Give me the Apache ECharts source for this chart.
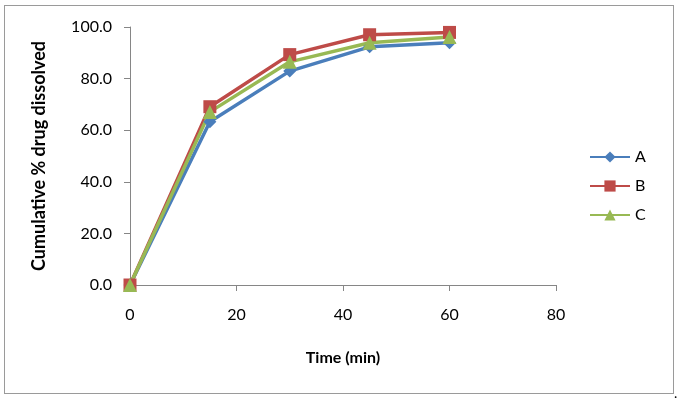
<!doctype html>
<html>
<head>
<meta charset="utf-8">
<script src="https://cdn.jsdelivr.net/npm/echarts@6/dist/echarts.min.js"></script>
<style>
    body { margin:0; background:#fff; }
    #frame { position:absolute; left:4px; top:5px; width:668px; height:387px; border:1px solid #9a9a9a; }
    #main { position:absolute; left:0; top:0; width:678px; height:402px; }
    #dot { position:absolute; left:674px; top:384px; font:14px Lato, sans-serif; }
</style>
</head>
<body>
<div id="frame"></div>
<div id="main"></div>
<div id="dot">.</div>
<script>
var times = [0, 15, 30, 45, 60];
var seriesA = [0, 63.3, 82.9, 92.3, 93.9];
var seriesB = [0, 69.1, 89.3, 97.0, 97.9];
var seriesC = [0, 67.1, 86.5, 93.9, 96.1];
var names = ['A', 'B', 'C'];
var colors = ['#4a7ebb', '#be4b48', '#98b954'];
var symbols = ['diamond', 'rect', 'triangle'];
var sizes = [13, 13, 14];

function pairs(vals) {
    return times.map(function (t, i) { return [t, vals[i]]; });
}

var chart = echarts.init(document.getElementById('main'));
var font = 'Lato, sans-serif';
var axisGray = '#868686';

var allData = [seriesA, seriesB, seriesC];
var series = [];
for (var i = 0; i < 3; i++) {
    series.push({
        name: names[i],
        type: 'line',
        data: pairs(allData[i]),
        symbol: symbols[i],
        symbolSize: sizes[i],
        lineStyle: { width: 3.5, color: colors[i] },
        itemStyle: { color: colors[i] }
    });
}

chart.setOption({
    animation: false,
    grid: { left: 130, right: 122, top: 27, bottom: 117 },
    legend: {
        orient: 'vertical',
        left: 584,
        top: 144,
        itemGap: 13,
        itemWidth: 40,
        itemHeight: 14,
        textStyle: { fontFamily: font, fontSize: 16, color: '#000' },
        data: names
    },
    xAxis: {
        type: 'value',
        min: 0, max: 80, interval: 20,
        name: 'Time (min)',
        nameLocation: 'middle',
        nameGap: 65,
        nameTextStyle: { fontFamily: font, fontSize: 16, fontWeight: 'bold', color: '#000' },
        axisLine: { lineStyle: { color: axisGray, width: 1 } },
        axisTick: { show: true, length: 6, lineStyle: { color: axisGray } },
        axisLabel: { fontFamily: font, fontSize: 16, color: '#000', margin: 22 },
        splitLine: { show: false }
    },
    yAxis: {
        type: 'value',
        min: 0, max: 100, interval: 20,
        name: 'Cumulative % drug dissolved',
        nameLocation: 'middle',
        nameGap: 82,
        nameRotate: 90,
        nameTextStyle: { fontFamily: font, fontSize: 18, fontWeight: 'bold', color: '#000' },
        axisLine: { show: true, lineStyle: { color: axisGray, width: 1 } },
        axisTick: { show: true, length: 6, lineStyle: { color: axisGray } },
        axisLabel: {
            fontFamily: font, fontSize: 16, color: '#000', margin: 18,
            formatter: function (v) { return v.toFixed(1); }
        },
        splitLine: { show: false }
    },
    series: series
});
</script>
</body>
</html>
